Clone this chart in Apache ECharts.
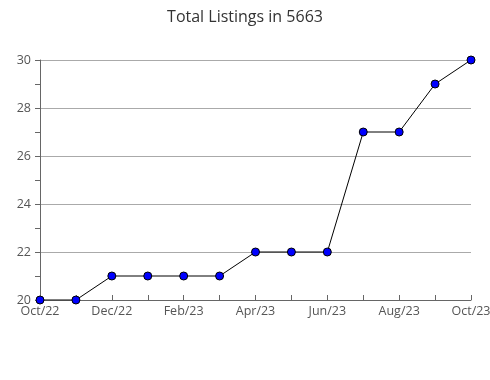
<!DOCTYPE html>
<html><head><meta charset="utf-8">
<script src="https://cdn.jsdelivr.net/npm/echarts@6/dist/echarts.min.js"></script>
<style>html,body{margin:0;padding:0;background:#fff}#c{width:490px;height:380px}</style>
</head><body><div id="c"></div>
<script>
const categories = ["Oct/22","Nov/22","Dec/22","Jan/23","Feb/23","Mar/23","Apr/23","May/23","Jun/23","Jul/23","Aug/23","Sep/23","Oct/23"];
const listings = [20,20,21,21,21,21,22,22,22,27,27,29,30];
const titleText = "Total Listings in 5663";

const chart = echarts.init(document.getElementById('c'));
chart.setOption({
  animation: false,
  title: {text: titleText, left: 'center', top: 4,
    textStyle: {fontFamily: 'Open Sans', fontSize: 16, fontWeight: 'normal', color: '#333'}},
  grid: {left: 40, right: 19, top: 60, bottom: 80, outerBoundsMode: 'none', containLabel: false},
  xAxis: {
    type: 'category', data: categories, boundaryGap: false,
    axisLine: {lineStyle: {color: '#666'}},
    axisTick: {show: true, inside: true, length: 5, interval: 0, lineStyle: {color: '#666'}},
    axisLabel: {interval: 1, color: '#555', fontFamily: 'Open Sans', fontSize: 12.5, margin: 5},
    splitLine: {show: false}
  },
  yAxis: {
    type: 'value', min: 20, max: 30, interval: 2,
    axisLine: {show: true, lineStyle: {color: '#666'}},
    axisTick: {show: true, length: 5, lineStyle: {color: '#666'}},
    minorTick: {show: true, splitNumber: 2, length: 5, lineStyle: {color: '#666'}},
    axisLabel: {color: '#555', fontFamily: 'Open Sans', fontSize: 12.5, margin: 9},
    splitLine: {show: true, lineStyle: {color: '#aaa', width: 1}}
  },
  series: [{
    type: 'line', data: listings,
    symbol: 'circle', symbolSize: 8,
    itemStyle: {color: '#0000ff', borderColor: '#000', borderWidth: 1},
    lineStyle: {color: '#000', width: 1}
  }]
});
</script></body></html>
